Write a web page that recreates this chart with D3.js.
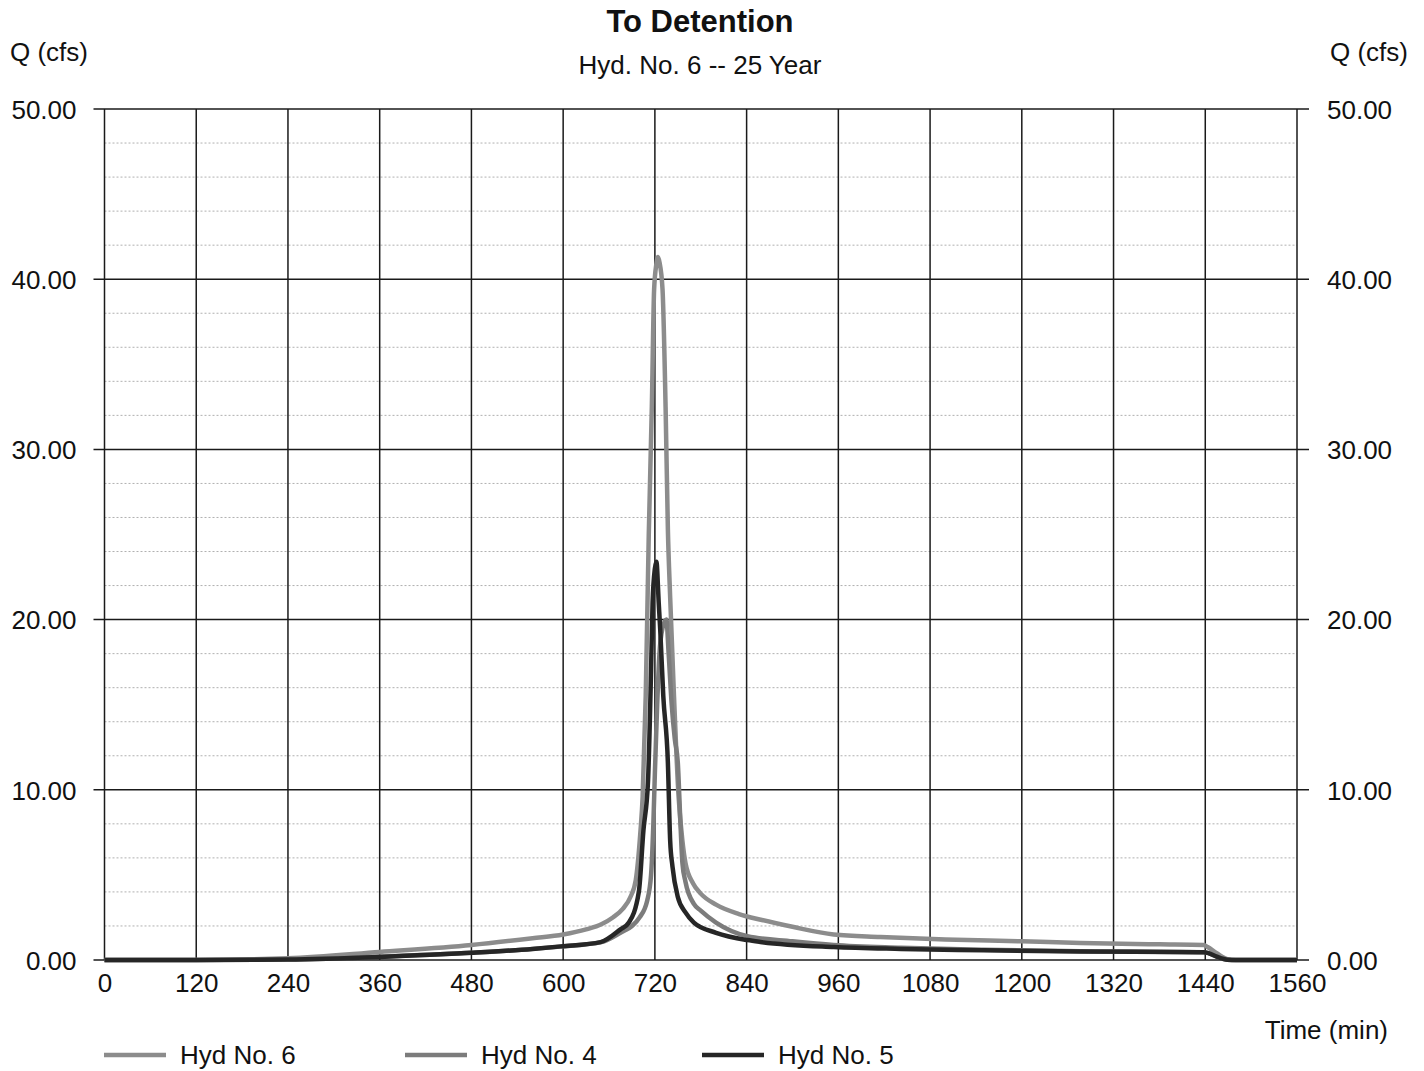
<!DOCTYPE html>
<html>
<head>
<meta charset="utf-8">
<script src="https://cdn.jsdelivr.net/npm/d3@7"></script>
<style>
  html, body { margin: 0; padding: 0; background: #fff; }
  svg { display: block; }
  text { font-family: "Liberation Sans", Arial, sans-serif; fill: #111; }
</style>
</head>
<body>
<svg id="chart" width="1424" height="1071"></svg>
<script>
// ---- data ----
const xTicks = [0, 120, 240, 360, 480, 600, 720, 840, 960, 1080, 1200, 1320, 1440, 1560];
const yTicks = [0, 10, 20, 30, 40, 50];
const yTickLabels = ["0.00", "10.00", "20.00", "30.00", "40.00", "50.00"];

const hyd6Time = [0, 120, 240, 360, 480, 560, 600, 630, 650, 665, 678, 688, 695, 701, 704, 708, 712, 716, 719, 722, 724, 726, 730, 734, 737, 740, 745, 751, 756, 760, 770, 780, 800, 830, 860, 900, 954, 1015, 1100, 1200, 1277, 1380, 1438, 1443, 1455, 1469, 1480, 1560];
const hyd6Q    = [0, 0, 0.1, 0.47, 0.88, 1.28, 1.5, 1.8, 2.1, 2.5, 3.0, 3.7, 4.7, 7.5, 9.6, 15.5, 25, 32.5, 39.4, 40.9, 41.3, 41.0, 39.4, 32.5, 25.3, 21.3, 15.5, 9.6, 7.0, 5.7, 4.5, 3.9, 3.25, 2.7, 2.35, 1.95, 1.5, 1.35, 1.2, 1.1, 1.0, 0.92, 0.88, 0.76, 0.4, 0.05, 0, 0];

const hyd4Time = [0, 120, 240, 360, 480, 600, 650, 675, 690, 700, 710, 715, 718, 720, 723, 726, 730, 735, 738, 742, 746, 750, 753, 756, 760, 771, 780, 800, 841, 900, 954, 1042, 1150, 1277, 1438, 1443, 1455, 1469, 1480, 1560];
const hyd4Q    = [0, 0, 0.03, 0.2, 0.42, 0.8, 1.05, 1.6, 2.0, 2.5, 3.5, 5, 8, 11, 15, 18, 19.5, 20, 18, 15, 13, 11.6, 8.5, 5.7, 4.6, 3.3, 2.9, 2.2, 1.4, 1.1, 0.88, 0.72, 0.6, 0.52, 0.45, 0.42, 0.2, 0.02, 0, 0];

const hyd5Time = [0, 120, 240, 360, 480, 560, 597, 649, 675, 686, 699, 705, 711, 715, 717, 720, 722, 725, 727, 731, 737, 740, 743, 750, 760, 771, 800, 841, 858, 954, 1042, 1150, 1277, 1438, 1443, 1455, 1469, 1480, 1560];
const hyd5Q    = [0, 0, 0.03, 0.18, 0.42, 0.65, 0.8, 1.05, 1.8, 2.2, 4.0, 7.6, 10.5, 17, 21, 23.0, 23.4, 21, 19.4, 15.5, 11.6, 7, 5.5, 3.7, 2.8, 2.2, 1.6, 1.17, 1.06, 0.76, 0.65, 0.57, 0.5, 0.45, 0.42, 0.2, 0.02, 0, 0];

const seriesNames = ["Hyd No. 6", "Hyd No. 4", "Hyd No. 5"];
const seriesColors = ["#8c8c8c", "#7c7c7c", "#262626"];

// ---- layout ----
const svg = d3.select("#chart");
const x = d3.scaleLinear().domain([0, 1560]).range([104.5, 1297]);
const y = d3.scaleLinear().domain([0, 50]).range([960, 109]);
const FONT = 26;

// minor horizontal grid (every 2 cfs)
const minor = d3.range(0, 50.01, 2).filter(v => v % 10 !== 0);
svg.append("g").selectAll("line").data(minor).join("line")
  .attr("x1", x(0)).attr("x2", x(1560))
  .attr("y1", d => y(d)).attr("y2", d => y(d))
  .attr("stroke", "#b0b0b0").attr("stroke-width", 1)
  .attr("stroke-dasharray", "2,2");

// vertical major grid
svg.append("g").selectAll("line").data(xTicks).join("line")
  .attr("x1", d => x(d)).attr("x2", d => x(d))
  .attr("y1", y(0)).attr("y2", y(50))
  .attr("stroke", "#1a1a1a").attr("stroke-width", 1.5);

// horizontal major grid (extending as ticks)
svg.append("g").selectAll("line").data(yTicks).join("line")
  .attr("x1", x(0) - 11).attr("x2", x(1560) + 12)
  .attr("y1", d => y(d)).attr("y2", d => y(d))
  .attr("stroke", "#1a1a1a").attr("stroke-width", 1.5);

// axes labels via d3
const leftAxis = d3.axisLeft(y).tickValues(yTicks).tickFormat((d, i) => yTickLabels[i]).tickSize(0).tickPadding(0);
const gl = svg.append("g").attr("transform", `translate(${x(0) - 28},0)`).call(leftAxis);
const rightAxis = d3.axisRight(y).tickValues(yTicks).tickFormat((d, i) => yTickLabels[i]).tickSize(0).tickPadding(0);
const gr = svg.append("g").attr("transform", `translate(${x(1560) + 30},0)`).call(rightAxis);
const bottomAxis = d3.axisBottom(x).tickValues(xTicks).tickFormat(d3.format("d")).tickSize(0).tickPadding(0);
const gb = svg.append("g").attr("transform", `translate(0,${y(0) + 14})`).call(bottomAxis);
[gl, gr, gb].forEach(g => {
  g.select(".domain").remove();
  g.selectAll("text").attr("font-size", FONT).attr("font-family", '"Liberation Sans", Arial, sans-serif').attr("fill", "#111");
});
gl.selectAll("text").attr("dy", "0.36em");
gr.selectAll("text").attr("dy", "0.36em");

// curves
const line = d3.line().x(d => x(d[0])).y(d => y(d[1])).curve(d3.curveMonotoneX);
const series = [
  d3.zip(hyd6Time, hyd6Q),
  d3.zip(hyd4Time, hyd4Q),
  d3.zip(hyd5Time, hyd5Q)
];
svg.append("g").selectAll("path").data(series).join("path")
  .attr("d", line)
  .attr("fill", "none")
  .attr("stroke", (d, i) => seriesColors[i])
  .attr("stroke-width", 4.5)
  .attr("stroke-linejoin", "round");

// titles
svg.append("text").attr("x", 700).attr("y", 32).attr("text-anchor", "middle")
  .attr("font-size", 31).attr("font-weight", "bold").text("To Detention");
svg.append("text").attr("x", 700).attr("y", 74).attr("text-anchor", "middle")
  .attr("font-size", FONT).text("Hyd. No. 6 -- 25 Year");
svg.append("text").attr("x", 10).attr("y", 61).attr("font-size", FONT).text("Q (cfs)");
svg.append("text").attr("x", 1408).attr("y", 61).attr("text-anchor", "end").attr("font-size", FONT).text("Q (cfs)");
svg.append("text").attr("x", 1388).attr("y", 1039).attr("text-anchor", "end").attr("font-size", FONT).text("Time (min)");

// legend
const legendX = [104, 405, 702];
const lg = svg.append("g").selectAll("g").data(seriesNames).join("g")
  .attr("transform", (d, i) => `translate(${legendX[i]},1055)`);
lg.append("line").attr("x1", 0).attr("x2", 62).attr("y1", 0).attr("y2", 0)
  .attr("stroke", (d, i) => seriesColors[i]).attr("stroke-width", 4.5);
lg.append("text").attr("x", 76).attr("y", 9).attr("font-size", FONT).text(d => d);
</script>
</body>
</html>
